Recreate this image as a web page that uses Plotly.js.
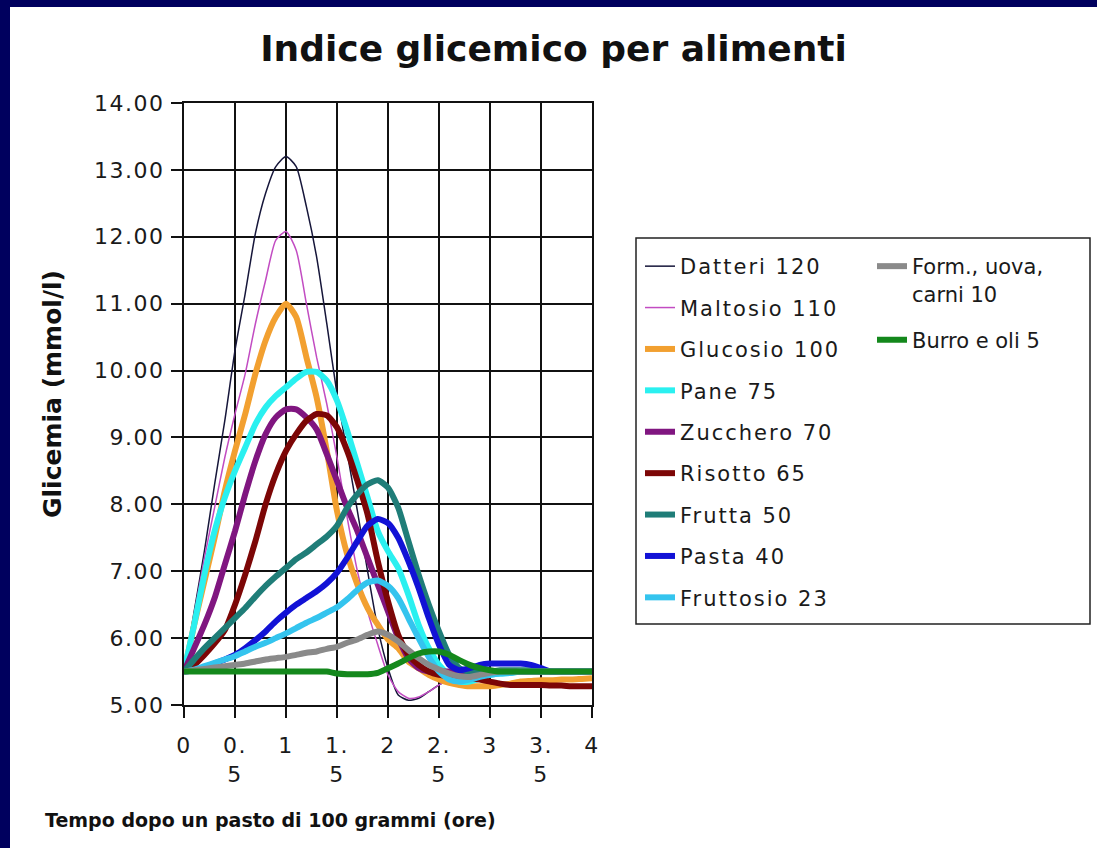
<!DOCTYPE html>
<html><head><meta charset="utf-8">
<script src="https://cdn.plot.ly/plotly-3.0.1.min.js"></script>
<style>
html,body{margin:0;padding:0;background:#00005e;width:1097px;height:848px;overflow:hidden}
#chart{position:absolute;left:10px;top:7px;width:1087px;height:841px;background:#fff}
.xtick text,.ytick text{letter-spacing:1.5px}
.legendtext{letter-spacing:2px}
</style></head>
<body><div id="chart"></div>
<script>
// time (hours) after the meal
const tempo = [0,0.1,0.2,0.3,0.4,0.5,0.6,0.7,0.8,0.9,1.0,1.1,1.2,1.3,1.4,1.5,1.6,1.7,1.8,1.9,2.0,
  2.1,2.2,2.3,2.4,2.5,2.6,2.7,2.8,2.9,3.0,3.1,3.2,3.3,3.4,3.5,3.6,3.7,3.8,3.9,4.0];

const datteri   = [5.5,6.4,7.3,8.3,9.25,10.3,11.15,12.05,12.65,13.05,13.2,13.05,12.45,11.7,10.7,9.65,8.77,7.9,7.0,6.15,5.55,
  5.15,5.07,5.1,5.2,5.3,5.38,5.43,5.47,5.5,5.5,5.5,5.5,5.5,5.5,5.5,5.5,5.5,5.5,5.5,5.5];
const maltosio  = [5.5,6.35,7.2,7.95,8.7,9.35,9.95,10.7,11.35,11.95,12.08,11.8,11.0,10.2,9.5,8.7,7.8,7.0,6.4,5.9,5.45,
  5.2,5.1,5.12,5.2,5.3,5.38,5.43,5.48,5.5,5.5,5.5,5.5,5.5,5.5,5.5,5.5,5.5,5.5,5.5,5.5];
const glucosio  = [5.5,6.2,6.85,7.5,8.2,8.8,9.35,9.95,10.45,10.8,11.0,10.8,10.2,9.6,8.8,7.9,7.25,6.8,6.45,6.2,5.98,
  5.85,5.65,5.55,5.45,5.38,5.33,5.3,5.28,5.28,5.28,5.3,5.32,5.35,5.36,5.37,5.37,5.38,5.38,5.39,5.4];
const pane      = [5.5,6.2,6.95,7.6,8.1,8.5,8.85,9.2,9.45,9.62,9.75,9.88,9.98,9.98,9.85,9.55,9.1,8.6,8.1,7.6,7.3,
  7.05,6.65,6.2,5.85,5.6,5.45,5.35,5.35,5.4,5.45,5.47,5.48,5.5,5.5,5.5,5.5,5.5,5.5,5.5,5.5];
const zucchero  = [5.5,5.85,6.2,6.6,7.1,7.6,8.15,8.65,9.05,9.3,9.42,9.42,9.3,9.12,8.75,8.35,7.95,7.6,7.2,6.8,6.4,
  6.0,5.7,5.55,5.5,5.5,5.5,5.5,5.5,5.5,5.5,5.5,5.5,5.5,5.5,5.5,5.5,5.5,5.5,5.5,5.5];
const risotto   = [5.5,5.6,5.75,5.92,6.12,6.5,6.95,7.45,8.0,8.45,8.8,9.05,9.25,9.35,9.33,9.15,8.8,8.35,7.85,7.15,6.55,
  6.05,5.75,5.6,5.5,5.45,5.43,5.42,5.4,5.38,5.35,5.32,5.3,5.3,5.3,5.3,5.29,5.29,5.28,5.28,5.28];
const frutta    = [5.5,5.68,5.85,6.0,6.15,6.3,6.45,6.62,6.78,6.92,7.05,7.18,7.28,7.4,7.52,7.68,7.95,8.15,8.3,8.36,8.25,
  7.95,7.45,6.95,6.5,6.1,5.75,5.55,5.5,5.5,5.5,5.52,5.52,5.52,5.52,5.5,5.5,5.5,5.5,5.5,5.5];
const pasta     = [5.5,5.52,5.56,5.62,5.68,5.75,5.85,5.97,6.1,6.25,6.38,6.5,6.6,6.7,6.82,6.98,7.2,7.45,7.68,7.78,7.72,
  7.5,7.15,6.75,6.3,5.9,5.6,5.52,5.55,5.6,5.62,5.62,5.62,5.62,5.6,5.55,5.5,5.5,5.5,5.5,5.5];
const fruttosio = [5.5,5.53,5.58,5.63,5.68,5.73,5.8,5.87,5.93,6.0,6.07,6.15,6.23,6.3,6.38,6.46,6.58,6.72,6.83,6.86,6.78,
  6.6,6.3,6.0,5.72,5.5,5.38,5.35,5.38,5.42,5.45,5.47,5.48,5.5,5.5,5.5,5.5,5.5,5.5,5.5,5.5];
const formaggi  = [5.5,5.52,5.54,5.56,5.58,5.6,5.62,5.65,5.68,5.7,5.72,5.75,5.78,5.8,5.84,5.87,5.93,5.98,6.05,6.1,6.05,
  5.95,5.82,5.7,5.6,5.53,5.47,5.43,5.42,5.45,5.48,5.5,5.5,5.5,5.5,5.5,5.5,5.5,5.5,5.5,5.5];
const burro     = [5.5,5.5,5.5,5.5,5.5,5.5,5.5,5.5,5.5,5.5,5.5,5.5,5.5,5.5,5.5,5.47,5.46,5.46,5.46,5.48,5.55,
  5.62,5.7,5.77,5.8,5.8,5.75,5.67,5.6,5.55,5.52,5.5,5.5,5.5,5.5,5.5,5.5,5.5,5.5,5.5,5.5];

const seriesNames = ["Datteri 120","Maltosio 110","Glucosio 100","Pane 75","Zucchero 70","Risotto 65",
  "Frutta 50","Pasta 40","Fruttosio 23","Form., uova,<br>carni 10","Burro e oli 5"];
const seriesValues = [datteri,maltosio,glucosio,pane,zucchero,risotto,frutta,pasta,fruttosio,formaggi,burro];
const seriesColors = ["#16163a","#c24cc2","#f2a030","#2af0f0","#801680","#7c0606","#1f7d78","#1212d6","#34c4ee","#8a8a8a","#14881c"];
const seriesWidths = [1.5,1.5,6,6,6,6,6,6,6,6,6];

const xTickVals = [0,0.5,1,1.5,2,2.5,3,3.5,4];
const xTickText = ["0","0.<br>5","1","1.<br>5","2","2.<br>5","3","3.<br>5","4"];

const traces = seriesNames.map((n,i)=>({
  type:"scatter", mode:"lines", name:n, x:tempo, y:seriesValues[i],
  line:{color:seriesColors[i], width:seriesWidths[i], shape:"spline", smoothing:0.6},
  legend: i < 9 ? "legend" : "legend2",
  legendgroup: "g"+i
}));

const F = "DejaVu Sans, Verdana, sans-serif";
const PW = 408, PH = 602, PL = 184, PB = 705;
const px = v => (v - PL)/PW;
const py = v => (PB - v)/PH;

const layout = {
  width:1087, height:841,
  margin:{l:174, r:505, t:96, b:143},
  paper_bgcolor:"#ffffff", plot_bgcolor:"#ffffff",
  title:{text:"Indice glicemico per alimenti", font:{family:F, size:36, color:"#111", weight:"bold"},
    x:0.5, xref:"container", xanchor:"center", y:1-41/841, yref:"container", yanchor:"middle"},
  xaxis:{range:[0,4], tickvals:xTickVals, ticktext:xTickText, showgrid:true, gridcolor:"#111", gridwidth:2,
    showline:true, mirror:true, linecolor:"#111", linewidth:2, zeroline:false,
    ticks:"outside", ticklen:11, tickwidth:2, tickcolor:"#111", ticklabelstandoff:9,
    tickfont:{family:F, size:22, color:"#1a1a1a"}},
  yaxis:{range:[5,14], dtick:1, tick0:5, tickformat:".2f", showgrid:true, gridcolor:"#111", gridwidth:2,
    showline:true, mirror:true, linecolor:"#111", linewidth:2, zeroline:false,
    ticks:"outside", ticklen:11, tickwidth:2, tickcolor:"#111", ticklabelstandoff:2,
    tickfont:{family:F, size:22, color:"#1a1a1a"}},
  legend:{x:px(640), y:py(246), xanchor:"left", yanchor:"top", xref:"paper", yref:"paper",
    bgcolor:"rgba(0,0,0,0)", borderwidth:0, tracegroupgap:11.1, traceorder:"grouped",
    font:{family:F, size:21, color:"#1a1a1a"}},
  legend2:{x:px(872), y:py(246), xanchor:"left", yanchor:"top", xref:"paper", yref:"paper",
    bgcolor:"rgba(0,0,0,0)", borderwidth:0, tracegroupgap:16, traceorder:"grouped", valign:"top",
    font:{family:F, size:21, color:"#1a1a1a"}},
  shapes:[{type:"rect", xref:"paper", yref:"paper", x0:px(636), x1:px(1090), y0:py(624), y1:py(238),
    line:{color:"#222", width:1.5}, fillcolor:"rgba(0,0,0,0)", layer:"below"}],
  annotations:[
    {text:"Tempo dopo un pasto di 100 grammi (ore)", xref:"paper", yref:"paper", x:px(43), y:py(820),
      xanchor:"left", yanchor:"middle", showarrow:false, font:{family:F, size:19, color:"#111", weight:"bold"}},
    {text:"Glicemia (mmol/l)", xref:"paper", yref:"paper", x:px(52), y:py(394), textangle:-90,
      xanchor:"center", yanchor:"middle", showarrow:false, font:{family:F, size:25, color:"#111", weight:"bold"}}
  ]
};

Plotly.newPlot("chart", traces, layout, {displayModeBar:false, staticPlot:true});
</script></body></html>
